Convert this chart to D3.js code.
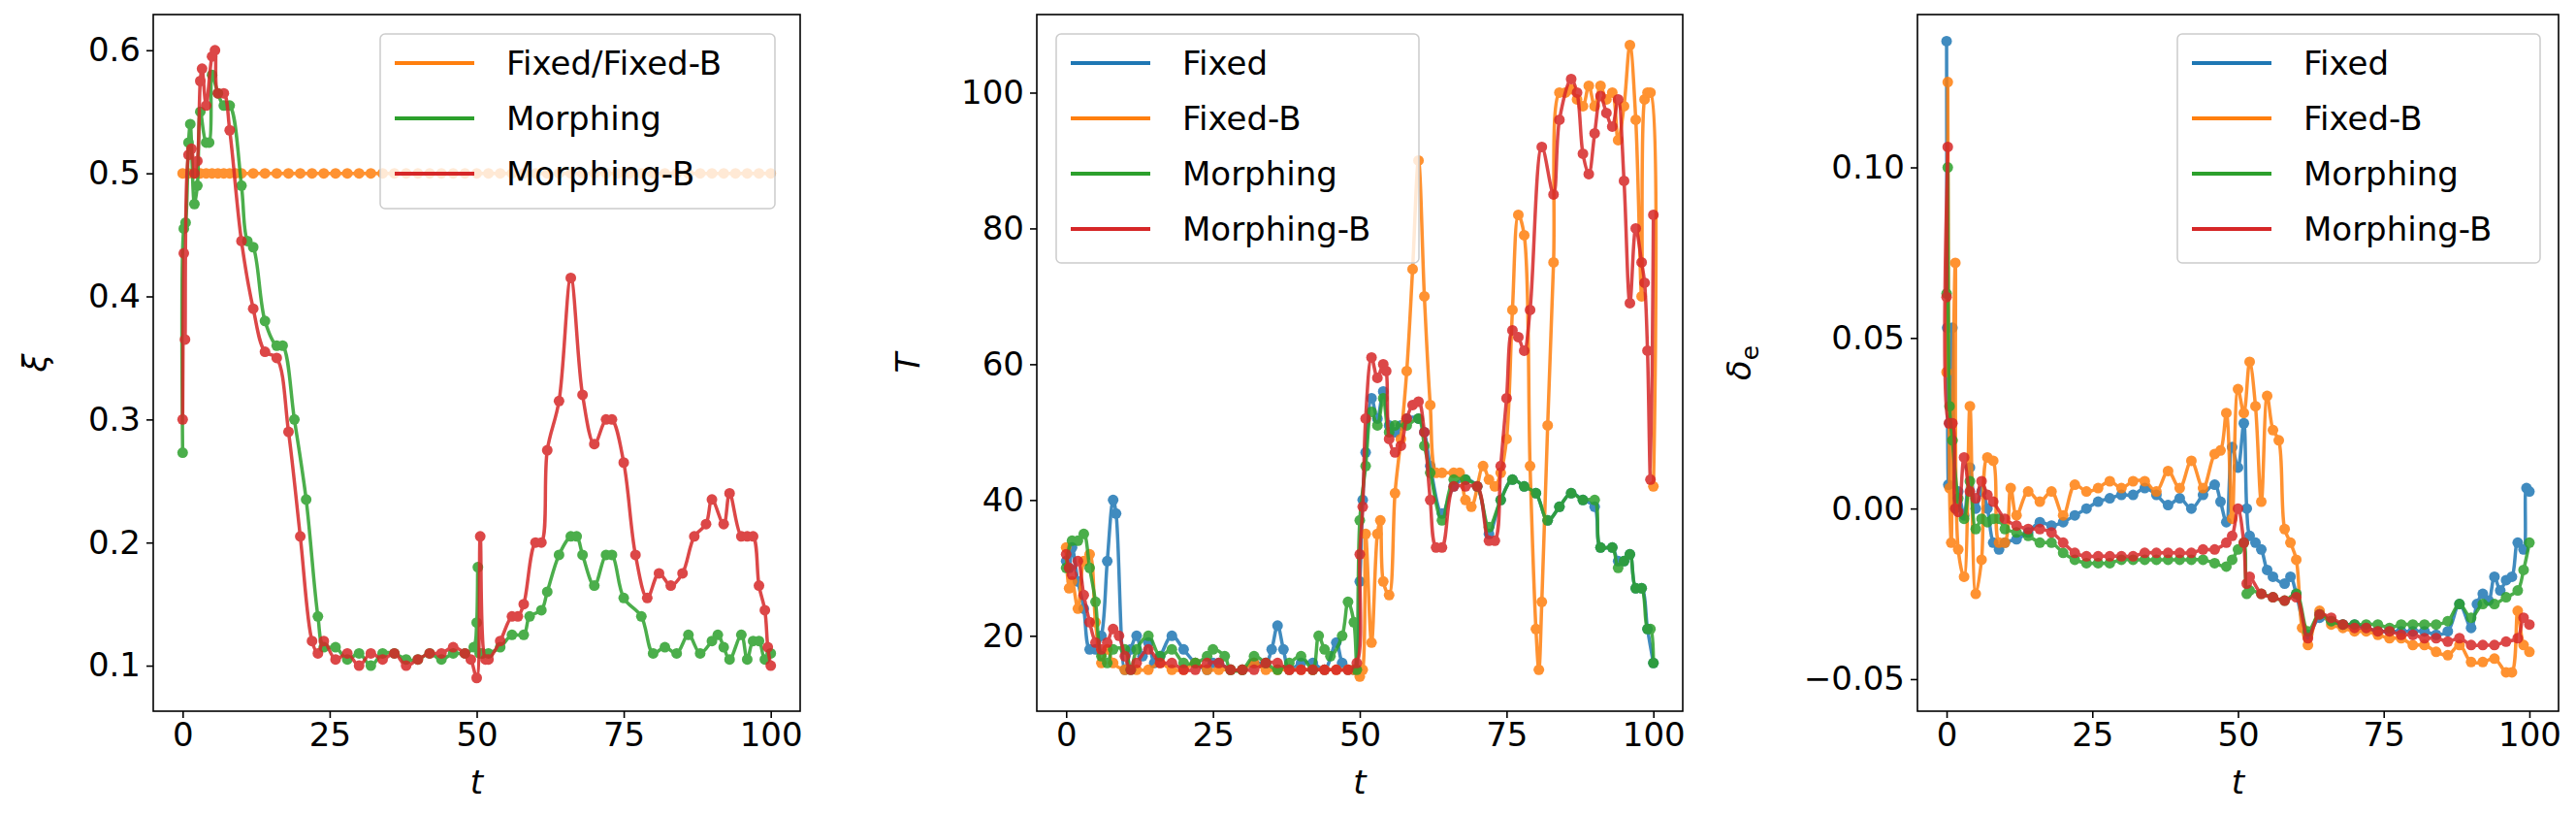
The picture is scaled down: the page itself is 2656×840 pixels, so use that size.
<!DOCTYPE html>
<html><head><meta charset="utf-8">
<script src="https://cdn.jsdelivr.net/npm/d3@7"></script>
<style>body{margin:0;background:#fff}svg{display:block}text{font-family:"DejaVu Sans",sans-serif;fill:#000}</style>
</head><body><svg id="c" width="2656" height="840"></svg>
<script>
// ---- Panel 1: xi ----
const xiMorphT = [0,0.2,0.5,1,1.3,2,2.5,3,4,4.5,5,6,7,8,10,11,12,14,16,17,19,21,23,24,26,28,30,32,34,36,38,40,42,44,46,48,49.5,50,50.2,50.5,51,52,54,56,58,59,61,62,64,66,67,68,70,72,73,75,78,80,82,84,86,88,90,91,92,93,95,96,97,98,99,100];
const xiMorphV = [0.273,0.455,0.46,0.525,0.54,0.475,0.49,0.55,0.525,0.525,0.58,0.565,0.555,0.555,0.49,0.445,0.44,0.38,0.36,0.36,0.30,0.235,0.14,0.115,0.115,0.105,0.11,0.10,0.11,0.11,0.105,0.105,0.11,0.105,0.11,0.11,0.115,0.135,0.18,0.11,0.11,0.11,0.115,0.125,0.125,0.14,0.145,0.16,0.19,0.205,0.205,0.19,0.165,0.19,0.19,0.155,0.14,0.11,0.115,0.11,0.125,0.11,0.12,0.125,0.115,0.105,0.125,0.105,0.12,0.12,0.105,0.11];
const xiMorphBT = [0,0.2,0.4,1,1.5,2,2.5,3,3.3,4,5,5.5,6,7,8,10,12,14,16,18,20,22,23,24,26,28,30,32,34,36,38,40,42,44,46,48,49,50,50.6,51.5,52,54,56,57,58,60,61,62,64,66,68,70,72,73,75,77,79,81,83,85,87,89,90,92,93,95,96,97,98,99,99.5,100];
const xiMorphBV = [0.30,0.435,0.365,0.515,0.52,0.5,0.51,0.575,0.585,0.555,0.595,0.6,0.565,0.565,0.535,0.445,0.39,0.355,0.35,0.29,0.205,0.12,0.11,0.12,0.105,0.11,0.1,0.11,0.105,0.11,0.1,0.105,0.11,0.11,0.115,0.11,0.105,0.09,0.205,0.105,0.105,0.12,0.14,0.14,0.15,0.2,0.2,0.275,0.315,0.415,0.32,0.28,0.3,0.3,0.265,0.19,0.155,0.175,0.165,0.175,0.205,0.215,0.235,0.215,0.24,0.205,0.205,0.205,0.165,0.145,0.115,0.10];
const xiFixedT = [0,1,2,3,4,5,6,7,8,9,10,12,14,16,18,20,22,24,26,28,30,32,34,36,38,40,42,44,46,48,50,52,54,56,58,60,62,64,66,68,70,72,74,76,78,80,82,84,86,88,90,92,94,96,98,100];
const xiFixedV = xiFixedT.map(() => 0.5);

// ---- Panel 2: T ----
const TFixedT = [0,0.5,1,2,3,4,5,6,7,8,8.5,10,11,12,13,14,15,16,18,20,22,24,25,26,28,30,32,34,35,36,37,38,40,42,44,46,47,48,49,50,50.5,51,52,53,54,55,56,57,58,60,61,62,64,66,68,70,72,74,76,78,80,82,84,86,88,90,91,93,94,95,96,97,98,99,100];
const TFixedV = [31,30,33,28,24,18,18,20,31,40,38,15,18,20,17,19,16,17,20,18,16,15,16,16,15,15,16,16,18,21.5,18,15,16,16,15,19,16,15,15,28,40,47,55,52,56,51,50,51,52,52,50,45,38,42,43,42,35,40,43,42,41,37,39,41,40,39,33,33,31,31,32,27,27,21,16];
const TFixedBT = [0,0.5,1,2,3,4,5,6,7,8,10,12,14,16,18,20,22,24,26,28,30,32,34,36,38,40,42,44,46,48,49,50,50.5,51,52,53,53.5,54,55,56,57,58,59,60,61,62,63,64,66,67,68,69,71,72,73,74,75,76,77,78,79,80,80.5,81,82,83,84,85,86,87,88,89,90,91,92,93,94,95,96,97,98,98.5,99,99.5,100];
const TFixedBV = [33,27,28,24,31,32,22,16,18,16,15,15,15,16,15,15,16,15,15,15,15,16,15,15,15,15,15,15,15,15,15,14,15,35,19,35,37,28,26,41,49,59,74,90,70,54,44,44,44,44,40,39,45,43,42,44,49,68,82,79,45,21,15,25,51,75,100,100,100.5,99,98,101,98,101,99,100,93,98,107,96,70,99,100,100,42];
const TMorphT = [0,1,2,3,4,5,6,7,8,10,11,12,14,16,18,20,22,24,25,27,28,30,32,34,36,38,40,42,43,44,45,47,48,49,49.5,50,51,52,53,54,55,56,58,60,61,62,64,66,68,70,72,74,76,78,80,82,84,86,88,90,91,93,94,95,96,97,98,99,99.5,100];
const TMorphV = [30,34,34,35,30,25,17,16,18,18,15,18,20,17,18,16,16,17,18,17,15,15,17,16,15,16,17,15,20,18,17,20,25,22,15,37,45,53,51,55,50,51,51,52,48,44,37,43,43,42,36,40,43,42,41,37,39,41,40,40,33,33,30,31,32,27,27,21,21,16];
const TMorphBT = [0,0.5,1,2,3,4,5,6,7,8,9,10,11,12,14,16,18,20,22,24,26,28,30,32,34,36,38,40,42,44,46,48,49.5,50,50.5,51,52,53,54,54.5,55,56,57,58,59,60,61,62,63,64,66,68,70,72,73,74,75,76,77,78,79,81,83,84,86,87,88,89,90,91,92,93,94,95,96,97,98,98.5,99,99.5,100];
const TMorphBV = [32,30,29,31,26,22,19,18,19,21,20,17,15,16,18,16,16,15,15,16,16,15,15,15,16,16,15,15,15,15,15,15,16,32,39,52,61,58,60,59,49,47,48,52,54,54.5,50,40,33,33,42,42,42,34,34,45,55,65,64,62,68,92,85,96,102,100,91,88,94,99.5,97,95,99,87,69,80,75,72,62,43,82];

// ---- Panel 3: delta_e ----
const dFixedT = [0,0.1,0.3,0.5,1,1.5,2,3,4,5,6,7,8,9,10,12,14,16,18,20,22,24,26,28,30,32,34,36,38,40,42,44,46,47,48,49,50,51,51.5,52,53,54,55,56,58,59,60,62,64,66,68,70,72,74,76,78,80,82,84,86,88,90,91,92,93,94,95,96,97,98,99,99.5,100];
const dFixedV = [0.137,0.053,0.007,0.025,0.053,0.0,0.005,-0.002,0.012,0.0,0.005,0.0,-0.01,-0.012,-0.01,-0.009,-0.007,-0.004,-0.005,-0.004,-0.002,0.0,0.002,0.003,0.004,0.004,0.006,0.004,0.001,0.003,0.0,0.004,0.007,0.002,-0.004,0.018,0.012,0.025,0.0,-0.008,-0.01,-0.012,-0.018,-0.02,-0.022,-0.02,-0.025,-0.037,-0.032,-0.033,-0.034,-0.034,-0.035,-0.036,-0.036,-0.036,-0.036,-0.036,-0.037,-0.036,-0.028,-0.035,-0.028,-0.025,-0.027,-0.02,-0.024,-0.021,-0.02,-0.01,-0.012,0.006,0.005];
const dFixedBT = [0,0.2,0.5,0.8,1,1.5,2,3,4,5,6,7,8,9,10,11,12,14,16,18,20,22,24,26,28,30,32,34,36,38,40,42,44,46,47,48,49,50,51,52,53,54,55,56,57,58,59,60,61,62,64,66,68,70,72,74,76,78,80,82,84,86,88,90,92,94,96,97,98,99,100];
const dFixedBV = [0.04,0.125,0.006,-0.01,0.02,0.072,-0.012,-0.02,0.03,-0.025,-0.015,0.015,0.014,-0.01,-0.01,0.006,-0.002,0.005,0.002,0.005,-0.002,0.007,0.005,0.006,0.008,0.006,0.008,0.008,0.005,0.011,0.006,0.014,0.006,0.016,0.017,0.028,-0.003,0.035,0.028,0.043,0.03,0.002,0.033,0.023,0.02,-0.006,-0.01,-0.015,-0.035,-0.04,-0.03,-0.034,-0.035,-0.036,-0.036,-0.037,-0.038,-0.038,-0.04,-0.04,-0.042,-0.043,-0.04,-0.045,-0.045,-0.044,-0.048,-0.048,-0.03,-0.04,-0.042];
const dMorphT = [0,0.2,0.5,1,2,3,4,5,6,7,8,9,10,12,14,16,18,20,22,24,26,28,30,32,34,36,38,40,42,44,46,48,49,50,51,51.5,52,54,56,58,60,62,64,66,68,70,72,74,76,78,80,82,84,86,88,90,92,94,96,98,99,100];
const dMorphV = [0.063,0.1,0.03,0.02,0.003,-0.003,0.008,-0.006,-0.003,-0.004,-0.003,-0.003,-0.006,-0.007,-0.008,-0.01,-0.01,-0.013,-0.015,-0.016,-0.016,-0.016,-0.015,-0.015,-0.015,-0.015,-0.015,-0.015,-0.015,-0.015,-0.016,-0.017,-0.015,-0.012,-0.01,-0.025,-0.024,-0.025,-0.026,-0.027,-0.025,-0.036,-0.031,-0.033,-0.034,-0.034,-0.034,-0.034,-0.035,-0.034,-0.034,-0.034,-0.034,-0.033,-0.028,-0.032,-0.028,-0.028,-0.026,-0.024,-0.018,-0.01];
const dMorphBT = [0,0.2,0.4,1,1.5,2,3,4,5,6,7,8,10,12,14,16,18,20,22,24,26,28,30,32,34,36,38,40,42,44,46,48,49,50,51,51.5,52,54,56,58,60,62,64,66,68,70,72,74,76,78,80,82,84,86,88,90,92,94,96,98,99,100];
const dMorphBV = [0.062,0.106,0.025,0.025,0.0,-0.001,0.015,0.005,0.003,0.008,0.004,0.002,-0.003,-0.005,-0.006,-0.006,-0.007,-0.01,-0.013,-0.014,-0.014,-0.014,-0.014,-0.014,-0.013,-0.013,-0.013,-0.013,-0.013,-0.012,-0.012,-0.01,-0.008,0.0,-0.01,-0.022,-0.02,-0.025,-0.026,-0.027,-0.026,-0.038,-0.031,-0.032,-0.034,-0.035,-0.035,-0.036,-0.036,-0.037,-0.037,-0.038,-0.038,-0.039,-0.038,-0.04,-0.04,-0.04,-0.039,-0.038,-0.032,-0.034];

const xTicks = [0,25,50,75,100];
const C = {blue:"#1f77b4", orange:"#ff7f0e", green:"#2ca02c", red:"#d62728"};
const FS = 34;

const panels = [
  {L:158,R:825,T:15,B:733, y:[0.063,0.629], yTicks:[0.1,0.2,0.3,0.4,0.5,0.6], fmt:d3.format(".1f"), ylab:"ξ", ylabX:48,
   series:[{t:xiFixedT,v:xiFixedV,c:C.orange,n:"Fixed/Fixed-B"},{t:xiMorphT,v:xiMorphV,c:C.green,n:"Morphing"},{t:xiMorphBT,v:xiMorphBV,c:C.red,n:"Morphing-B"}],
   leg:{x:392,y:35,w:407,h:180}},
  {L:1069,R:1735,T:15,B:733, y:[8.9,111.5], yTicks:[20,40,60,80,100], fmt:d3.format("d"), ylab:"T", ylabX:948,
   series:[{t:TFixedT,v:TFixedV,c:C.blue,n:"Fixed"},{t:TFixedBT,v:TFixedBV,c:C.orange,n:"Fixed-B"},{t:TMorphT,v:TMorphV,c:C.green,n:"Morphing"},{t:TMorphBT,v:TMorphBV,c:C.red,n:"Morphing-B"}],
   leg:{x:1089,y:35,w:374,h:236}},
  {L:1977,R:2638,T:15,B:733, y:[-0.0594,0.1448], yTicks:[-0.05,0,0.05,0.10], fmt:v=>d3.format(".2f")(v).replace("-","−"), ylab:"δ", ylabX:1805, sub:"e",
   series:[{t:dFixedT,v:dFixedV,c:C.blue,n:"Fixed"},{t:dFixedBT,v:dFixedBV,c:C.orange,n:"Fixed-B"},{t:dMorphT,v:dMorphV,c:C.green,n:"Morphing"},{t:dMorphBT,v:dMorphBV,c:C.red,n:"Morphing-B"}],
   leg:{x:2245,y:35,w:374,h:236}}
];

const svg = d3.select("#c");
panels.forEach((p,pi) => {
  const x = d3.scaleLinear().domain([-5,105]).range([p.L,p.R]);
  const y = d3.scaleLinear().domain(p.y).range([p.B,p.T]);
  const clipId = "clip"+pi;
  svg.append("clipPath").attr("id",clipId).append("rect").attr("x",p.L).attr("y",p.T).attr("width",p.R-p.L).attr("height",p.B-p.T);
  const g = svg.append("g").attr("clip-path",`url(#${clipId})`);
  const line = d3.line().x(d=>x(d[0])).y(d=>y(d[1])).curve(d3.curveCatmullRom.alpha(0.5));
  p.series.forEach(s => {
    const pts = s.t.map((t,i)=>[t,s.v[i]]);
    const sg = g.append("g").attr("opacity",0.85);
    sg.append("path").attr("d",line(pts)).attr("fill","none").attr("stroke",s.c).attr("stroke-width",3.5);
    sg.selectAll("circle").data(pts).join("circle").attr("cx",d=>x(d[0])).attr("cy",d=>y(d[1])).attr("r",5.5).attr("fill",s.c);
  });
  svg.append("g").attr("transform",`translate(0,${p.B})`).call(d3.axisBottom(x).tickValues(xTicks).tickSize(7).tickPadding(5))
    .call(a=>{a.select(".domain").remove();a.selectAll("line").attr("stroke-width",1.6);a.selectAll("text").attr("font-size",FS).attr("font-family","DejaVu Sans");});
  svg.append("g").attr("transform",`translate(${p.L},0)`).call(d3.axisLeft(y).tickValues(p.yTicks).tickFormat(p.fmt).tickSize(7).tickPadding(6))
    .call(a=>{a.select(".domain").remove();a.selectAll("line").attr("stroke-width",1.6);a.selectAll("text").attr("font-size",FS).attr("font-family","DejaVu Sans");});
  svg.append("rect").attr("x",p.L).attr("y",p.T).attr("width",p.R-p.L).attr("height",p.B-p.T).attr("fill","none").attr("stroke","#000").attr("stroke-width",1.6);
  svg.append("text").attr("x",(p.L+p.R)/2).attr("y",818).attr("text-anchor","middle").attr("font-size",FS).attr("font-style","italic").text("t");
  const yl = svg.append("text").attr("transform",`translate(${p.ylabX},${(p.T+p.B)/2}) rotate(-90)`).attr("text-anchor","middle").attr("font-size",FS).attr("font-style","italic");
  yl.append("tspan").text(p.ylab);
  if (p.sub) yl.append("tspan").attr("font-size",25).attr("font-style","normal").attr("dy",8).text(p.sub);
  const lg = svg.append("g");
  lg.append("rect").attr("x",p.leg.x).attr("y",p.leg.y).attr("width",p.leg.w).attr("height",p.leg.h).attr("rx",5)
    .attr("fill","#fff").attr("fill-opacity",0.8).attr("stroke","#ccc").attr("stroke-width",1.5);
  p.series.forEach((s,i) => {
    const cy = p.leg.y + 30 + i*57;
    lg.append("line").attr("x1",p.leg.x+15).attr("x2",p.leg.x+97).attr("y1",cy).attr("y2",cy).attr("stroke",s.c).attr("stroke-width",4);
    lg.append("text").attr("x",p.leg.x+130).attr("y",cy+12).attr("font-size",FS).text(s.n);
  });
});
</script></body></html>
